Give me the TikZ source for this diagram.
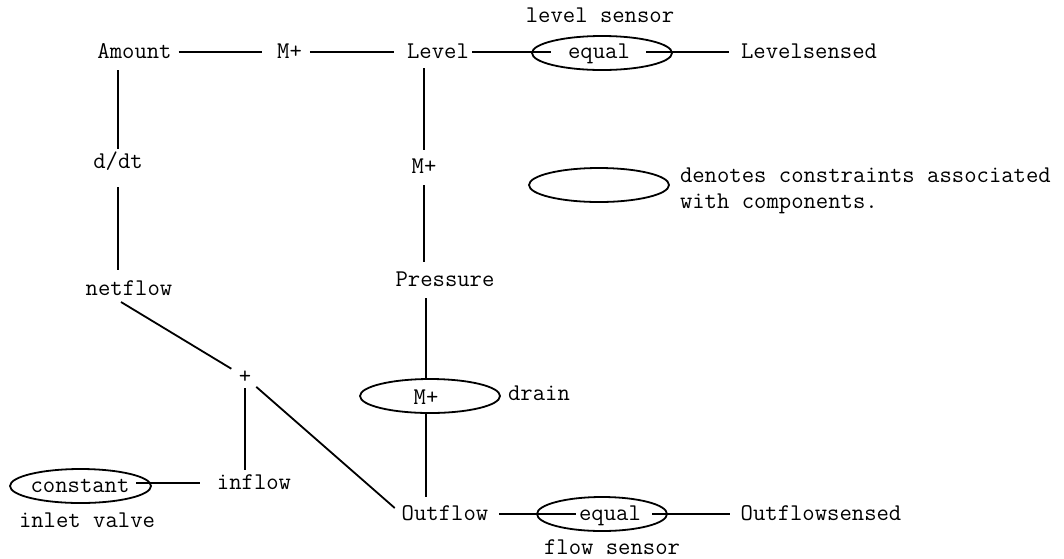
\documentclass[tikz,border=0pt]{standalone}
\usepackage{fontspec}
\usetikzlibrary{shapes.geometric}
\begin{document}
\begin{tikzpicture}[x=1pt,y=-1pt,
  lbl/.style={inner sep=0pt, outer sep=0pt, text height=12pt, text depth=0pt,
              anchor=base, font=\ttfamily\fontsize{24}{28}\selectfont},
  oval/.style={draw, ellipse, line width=1.8pt, minimum width=140pt,
               minimum height=34pt, inner sep=0pt, outer sep=0pt},
  link/.style={line width=1.8pt}]
\path[use as bounding box] (0,0) rectangle (1064,558);

% top row: level sensor
\node[lbl] (amount) at (134.5,58) {Amount};
\node[lbl] (mA) at (289.5,58) {M+};
\node[lbl] (level) at (438,58) {Level};
\node[oval] (eLo) at (602,53) {};
\node[lbl] (eqL) at (599,58) {equal};
\node[lbl] (lsensed) at (809,58) {Levelsensed};
\node[lbl] (lsensor) at (600,22) {level sensor};

% left and middle columns
\node[lbl] (ddt) at (118,168) {d/dt};
\node[lbl] (mL) at (424,173) {M+};
\node[lbl] (netflow) at (129,295) {netflow};
\node[lbl] (pressure) at (445,286) {Pressure};
\node[lbl] (plus) at (245,383) {+};

% drain
\node[oval] (eD) at (430,396) {};
\node[lbl] (mD) at (426,404) {M+};
\node[lbl] (drain) at (539,400) {drain};

% inlet valve
\node[oval, minimum width=141pt] (eC) at (80.5,486) {};
\node[lbl] (constant) at (80,492) {constant};
\node[lbl] (inflow) at (254,489) {inflow};
\node[lbl] (inlet) at (87,527) {inlet valve};

% flow sensor
\node[lbl] (outflow) at (445,520) {Outflow};
\node[oval, minimum width=130pt] (eF) at (602,514) {};
\node[lbl] (eqF) at (610,520) {equal};
\node[lbl] (osensed) at (821,520) {Outflowsensed};
\node[lbl] (fsensor) at (612,554) {flow sensor};

% legend
\node[oval] (legend) at (599,185) {};
\node[lbl, anchor=base west] (note1) at (680,182) {denotes constraints associated};
\node[lbl, anchor=base west] (note2) at (680,208) {with components.};

% connectors
\draw[link, shorten <=7pt, shorten >=15pt] (amount.east) -- (mA.west);
\draw[link, shorten <=8pt, shorten >=13.5pt] (mA.east) -- (level.west);
\draw[link, shorten <=3.5pt, shorten >=17.5pt] (level.east) -- (eqL.west);
\draw[link, shorten <=16.5pt, shorten >=11.7pt] (eqL.east) -- (lsensed.west);

\draw[link, shorten <=12pt, shorten >=7pt] (ddt.north |- amount.south) -- (ddt.north);
\draw[link, shorten <=19pt, shorten >=13pt] (ddt.south) -- (ddt.south |- netflow.north);
\draw[link, shorten <=10pt, shorten >=11pt] (mL.north |- level.south) -- (mL.north);
\draw[link, shorten <=12pt, shorten >=12pt] (mL.south) -- (mL.south |- pressure.north);
\draw[link, shorten <=12pt] (mD.north |- pressure.south) -- (mD.north |- eD.north);
\draw[link, shorten >=11pt] (mD.south |- eD.south) -- (mD.south |- outflow.north);

\draw[link, shorten >=16pt] ([shift={(-8,7)}]netflow.south) -- (plus.center);
\draw[link, shorten <=15pt] (plus.center) -- ([xshift=-7pt]outflow.north west);
\draw[link, shorten <=5pt, shorten >=7pt] (plus.south) -- (plus.south |- inflow.north);
\draw[link, shorten <=7pt, shorten >=17pt] (constant.east |- inflow.west) -- (inflow.west);

\draw[link, shorten <=11pt, shorten >=3.5pt] (outflow.east) -- (eqF.west);
\draw[link, shorten <=11.5pt, shorten >=11pt] (eqF.east) -- (osensed.west);
\end{tikzpicture}
\end{document}
